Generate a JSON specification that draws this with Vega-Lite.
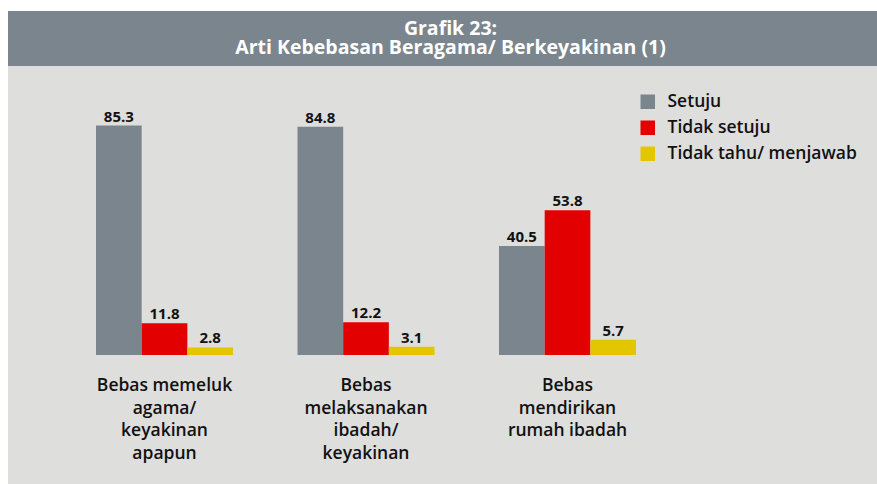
{
  "$schema": "https://vega.github.io/schema/vega-lite/v6.json",
  "background": "white",
  "padding": {"left": 8, "top": 11, "right": 0, "bottom": 0},
  "spacing": 0,
  "config": {"view": {"stroke": null}, "font": "Open Sans"},
  "datasets": {
    "bars": [
      {"cat": "Bebas memeluk agama/ keyakinan apapun", "series": "Setuju", "value": 85.3},
      {"cat": "Bebas memeluk agama/ keyakinan apapun", "series": "Tidak setuju", "value": 11.8},
      {"cat": "Bebas memeluk agama/ keyakinan apapun", "series": "Tidak tahu/ menjawab", "value": 2.8},
      {"cat": "Bebas melaksanakan ibadah/ keyakinan", "series": "Setuju", "value": 84.8},
      {"cat": "Bebas melaksanakan ibadah/ keyakinan", "series": "Tidak setuju", "value": 12.2},
      {"cat": "Bebas melaksanakan ibadah/ keyakinan", "series": "Tidak tahu/ menjawab", "value": 3.1},
      {"cat": "Bebas mendirikan rumah ibadah", "series": "Setuju", "value": 40.5},
      {"cat": "Bebas mendirikan rumah ibadah", "series": "Tidak setuju", "value": 53.8},
      {"cat": "Bebas mendirikan rumah ibadah", "series": "Tidak tahu/ menjawab", "value": 5.7}
    ],
    "cats": [
      {"cat": "Bebas memeluk agama/ keyakinan apapun", "lines": "Bebas memeluk|agama/|keyakinan|apapun"},
      {"cat": "Bebas melaksanakan ibadah/ keyakinan", "lines": "Bebas|melaksanakan|ibadah/|keyakinan"},
      {"cat": "Bebas mendirikan rumah ibadah", "lines": "Bebas|mendirikan|rumah ibadah"}
    ]
  },
  "vconcat": [
    {
      "width": 869,
      "height": 55,
      "view": {"fill": "#7b858d", "stroke": null},
      "data": {"values": [{"t": "Grafik 23:|Arti Kebebasan Beragama/ Berkeyakinan (1)"}]},
      "mark": {"type": "text", "lineBreak": "|", "fontSize": 19.5, "fontWeight": "bold", "color": "white", "lineHeight": 19, "dx": 8, "dy": -9.5, "baseline": "middle", "align": "center"},
      "encoding": {"text": {"field": "t", "type": "nominal"}}
    },
    {
      "width": 869,
      "height": 418,
      "view": {"fill": "#dededd", "stroke": null},
      "layer": [
        {
          "data": {"name": "bars"},
          "mark": {"type": "bar"},
          "encoding": {
            "x": {"field": "cat", "type": "nominal", "axis": null,
              "scale": {"domain": ["Bebas memeluk agama/ keyakinan apapun", "Bebas melaksanakan ibadah/ keyakinan", "Bebas mendirikan rumah ibadah"], "paddingInner": 0.32, "paddingOuter": 0.8163, "align": 0.2675}},
            "xOffset": {"field": "series", "type": "nominal",
              "scale": {"domain": ["Setuju", "Tidak setuju", "Tidak tahu/ menjawab"], "paddingInner": 0, "paddingOuter": 0}},
            "y": {"field": "value", "type": "quantitative", "axis": null,
              "scale": {"domain": [-47.96, 107.43], "nice": false, "zero": false}},
            "y2": {"datum": 0},
            "color": {"field": "series", "type": "nominal",
              "scale": {"domain": ["Setuju", "Tidak setuju", "Tidak tahu/ menjawab"], "range": ["#7b858e", "#e30000", "#e3c600"]},
              "legend": {"title": null, "orient": "none", "legendX": 631, "legendY": 82, "symbolType": "square", "symbolSize": 210, "symbolStrokeWidth": 0, "labelFontSize": 17.5, "labelFontWeight": 600, "labelColor": "#111111", "labelOffset": 11, "labelLimit": 400, "rowPadding": 7, "padding": 0, "labelFont": "Open Sans"}}
          }
        },
        {
          "data": {"name": "bars"},
          "mark": {"type": "text", "dy": -4, "baseline": "alphabetic", "fontSize": 15, "fontWeight": "bold", "color": "#111111"},
          "encoding": {
            "x": {"field": "cat", "type": "nominal"},
            "xOffset": {"field": "series", "type": "nominal"},
            "y": {"field": "value", "type": "quantitative"},
            "text": {"field": "value", "type": "quantitative", "format": ".1f"}
          }
        },
        {
          "data": {"name": "cats"},
          "mark": {"type": "text", "lineBreak": "|", "baseline": "alphabetic", "fontSize": 17.5, "fontWeight": 600, "lineHeight": 22.5, "color": "#111111"},
          "encoding": {
            "x": {"field": "cat", "type": "nominal"},
            "y": {"datum": -13.4},
            "text": {"field": "lines", "type": "nominal"}
          }
        }
      ]
    }
  ]
}
